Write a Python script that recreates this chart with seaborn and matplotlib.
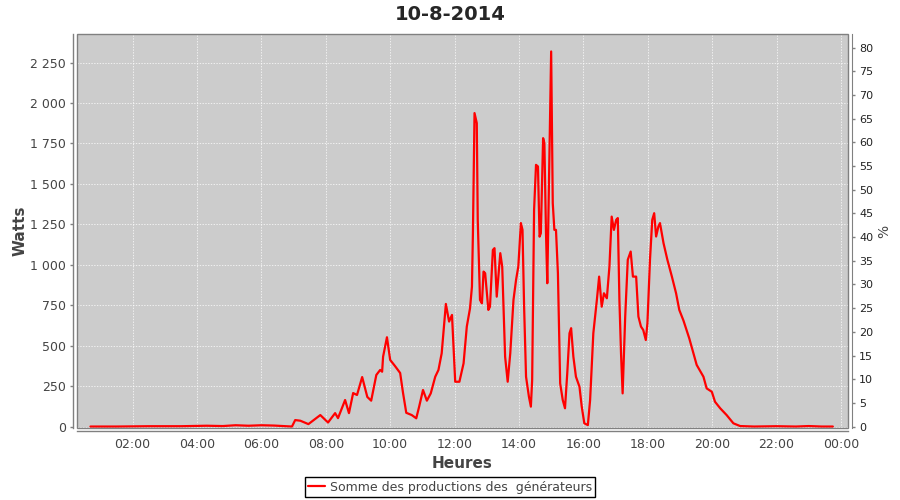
import numpy as np
import pandas as pd
import matplotlib
matplotlib.use('Agg')
import matplotlib.pyplot as plt
import seaborn as sns
from matplotlib.ticker import FuncFormatter, FixedLocator
from matplotlib.patches import Rectangle
from matplotlib.lines import Line2D

titre = '10-8-2014'
nom_serie = 'Somme des productions des  générateurs'

# heure de la journee (en heures decimales) et puissance en watts
heures = [0.69, 1.5, 2.5, 3.5, 4.3, 4.8, 5.2, 5.6, 6.0, 6.4, 6.8, 6.95,
          7.05, 7.21, 7.46, 7.83, 8.07, 8.29, 8.38, 8.60, 8.72, 8.85, 8.97,
          9.13, 9.29, 9.41, 9.57, 9.69, 9.75, 9.78, 9.90, 10.00, 10.15, 10.31,
          10.40, 10.50, 10.67, 10.81, 10.90, 11.02, 11.14, 11.26, 11.40, 11.50,
          11.60, 11.73, 11.83, 11.92, 12.02, 12.15, 12.28, 12.38, 12.48, 12.54,
          12.57, 12.62, 12.69, 12.72, 12.79, 12.85, 12.90, 12.95, 13.05, 13.10,
          13.19, 13.24, 13.31, 13.42, 13.48, 13.57, 13.65, 13.73, 13.83, 13.91,
          13.98, 14.06, 14.11, 14.16, 14.22, 14.31, 14.37, 14.41, 14.47, 14.53,
          14.59, 14.64, 14.68, 14.75, 14.79, 14.84, 14.88, 15.00, 15.05, 15.10,
          15.15, 15.21, 15.28, 15.36, 15.43, 15.50, 15.57, 15.62, 15.69, 15.77,
          15.88, 15.95, 16.03, 16.14, 16.21, 16.31, 16.42, 16.49, 16.57, 16.64,
          16.73, 16.81, 16.88, 16.95, 17.02, 17.07, 17.12, 17.17, 17.22, 17.30,
          17.38, 17.47, 17.54, 17.64, 17.71, 17.79, 17.86, 17.94, 17.99, 18.07,
          18.14, 18.20, 18.26, 18.33, 18.38, 18.49, 18.61, 18.75, 18.88, 18.98,
          19.11, 19.29, 19.52, 19.73, 19.83, 19.99, 20.09, 20.25, 20.45, 20.66,
          20.87, 21.3, 22.0, 22.6, 23.0, 23.4, 23.75]
watts = [0, 0, 2, 2, 5, 3, 8, 5, 8, 6, 2, 0,
         40, 36, 15, 71, 25, 83, 52, 164, 83, 207, 195,
         306, 183, 160, 319, 350, 339, 432, 552, 412, 374, 331,
         207, 85, 71, 51, 123, 226, 160, 205, 308, 350,
         453, 758, 649, 690, 277, 277, 391, 618, 731, 865,
         1195, 1938, 1876, 1278, 783, 762, 958, 948, 721, 741,
         1092, 1103, 803, 1072, 989, 432, 277, 453, 783, 907,
         989, 1258, 1216, 741, 308, 184, 123, 288, 1340, 1618,
         1608, 1174, 1195, 1783, 1752, 1195, 886, 2319, 1381, 1216,
         1216, 948, 267, 164, 113, 329, 577, 608, 432, 308,
         246, 123, 20, 9, 164, 577, 783, 927, 741, 824,
         793, 989, 1298, 1216, 1278, 1289, 783, 453, 205, 680,
         1031, 1082, 927, 927, 680, 618, 597, 535, 639, 1031,
         1278, 1319, 1175, 1236, 1258, 1134, 1031, 927, 824, 721,
         655, 545, 381, 308, 236, 215, 153, 113, 71, 20,
         3, 0, 2, 0, 3, 0, 0]

ticks_watts = list(range(0, 2251, 250))
ticks_pourcent = list(range(0, 81, 5))
ticks_heures = list(range(2, 25, 2))

sns.set_style('white')
plt.rcParams['font.family'] = ['DejaVu Sans']

df = pd.DataFrame({'heure': heures, 'watts': watts})

fig = plt.figure(figsize=(9, 5), dpi=100)
ax = fig.add_axes([77 / 900, 72 / 500, 771 / 900, 394 / 500])
ax.set_facecolor('#cccccc')

sns.lineplot(data=df, x='heure', y='watts', color='red', lw=1.6, ax=ax,
             errorbar=None, zorder=3)

ax.set_xlim(0.273, 24.22)
ax.set_ylim(-9, 2427)
ax.xaxis.set_major_locator(FixedLocator(ticks_heures))
ax.xaxis.set_major_formatter(FuncFormatter(lambda v, p: '%02d:00' % (int(round(v)) % 24)))
ax.yaxis.set_major_locator(FixedLocator(ticks_watts))
ax.yaxis.set_major_formatter(FuncFormatter(lambda v, p: ('{:,}'.format(int(v))).replace(',', ' ')))
ax.grid(True, color='white', ls=(0, (2, 2)), lw=0.5)
ax.set_axisbelow(True)

for s in ['top', 'right']:
    ax.spines[s].set_visible(False)
ax.spines['left'].set_position(('outward', 3))
ax.spines['bottom'].set_position(('outward', 2))
for s in ['left', 'bottom']:
    ax.spines[s].set_color('#808080')
    ax.spines[s].set_linewidth(1)
ax.add_patch(Rectangle((0, 0), 1, 1, transform=ax.transAxes, fill=False,
                       ec='#808080', lw=1, clip_on=False, zorder=5))
ax.tick_params(axis='both', direction='out', length=2, width=1, color='#808080',
               labelsize=9, labelcolor='#444444', pad=3)

ax.set_xlabel('Heures', fontsize=11, fontweight='bold', color='#444444', labelpad=4)
ax.set_ylabel('Watts', fontsize=11, fontweight='bold', color='#444444', labelpad=2)

ax2 = ax.twinx()
ax2.set_ylim(-9 / 29.28, 2427 / 29.28)
ax2.yaxis.set_major_locator(FixedLocator(ticks_pourcent))
for s in ['top', 'left', 'bottom']:
    ax2.spines[s].set_visible(False)
ax2.spines['right'].set_position(('outward', 3))
ax2.spines['right'].set_color('#808080')
ax2.tick_params(axis='y', direction='out', length=2, width=1, color='#808080',
                labelsize=8, labelcolor='#222222', pad=3)
ax2.set_ylabel('%', fontsize=10, color='#444444', labelpad=3)

fig.suptitle(titre, fontsize=14, fontweight='bold', y=0.99, va='top')

poignee = Line2D([], [], color='red', lw=1.6)
leg = fig.legend(handles=[poignee], labels=[nom_serie], loc='center',
                 bbox_to_anchor=(0.5, 0.026), fontsize=9, frameon=True,
                 fancybox=False, edgecolor='black', framealpha=1,
                 handlelength=1.4, handletextpad=0.4, borderpad=0.25,
                 labelcolor='#444444')
leg.get_frame().set_linewidth(1)

fig.savefig('out.png', dpi=100, facecolor='white')
